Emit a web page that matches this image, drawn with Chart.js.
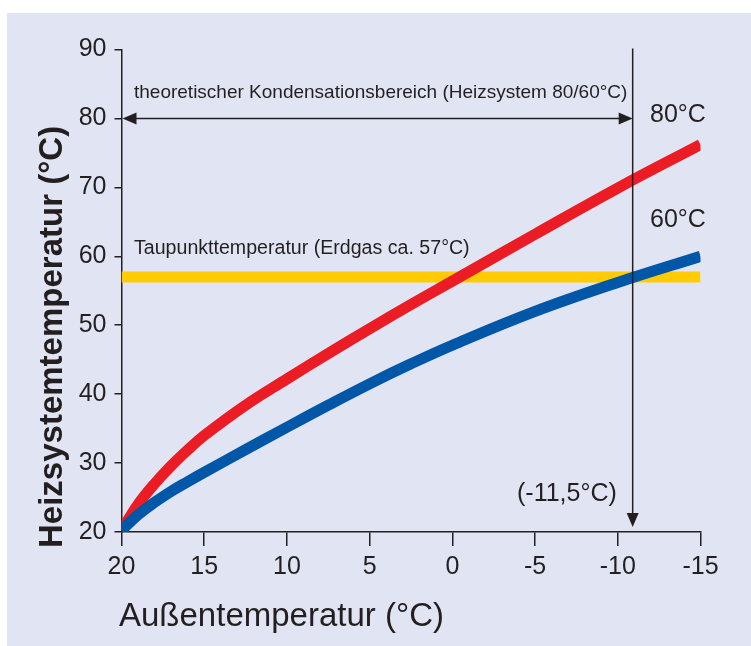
<!DOCTYPE html>
<html>
<head>
<meta charset="utf-8">
<script src="https://cdn.jsdelivr.net/npm/chart.js@4/dist/chart.umd.min.js"></script>
<style>
  html, body { margin: 0; padding: 0; background: #ffffff; }
  #wrap { position: relative; width: 751px; height: 646px; }
</style>
</head>
<body>
<div id="wrap"><canvas id="myChart"></canvas></div>
<script>
// Außentemperatur (°C) -> Heizsystemtemperatur (°C)
const outsideTemps = [20, 19, 18, 17, 16, 15, 12.5, 10, 7.5, 5, 2.5, 0, -5, -10, -15];
const system60 = [20.2, 22.5, 24.3, 25.9, 27.3, 28.65, 31.95, 35.2, 38.4, 41.5, 44.4, 47.1, 52.0, 56.2, 60.0];
const system80 = [20.2, 24.0, 27.0, 29.6, 31.9, 34.0, 38.4, 42.2, 45.9, 49.5, 53.0, 56.4, 63.2, 69.9, 76.2];
const dewPointRange = [20, -15];
const dewPointTemp = 57;
const condensationLimit = -10.9;   // where 60°C curve meets dew point
const condensationLevel = 80;

const ink = '#231f20';
const colors = { red: '#ec1c24', blue: '#0057a8', yellow: '#ffcb05', panel: '#e1e5f3' };

function toPoints(xs, ys) {
    return xs.map((x, i) => ({ x: x, y: ys[i] }));
}

function arrowHead(ctx, x, y, dir) {
    // dir: 'left', 'right', 'down'
    const len = 14, half = 6;
    ctx.beginPath();
    if (dir === 'left') { ctx.moveTo(x, y); ctx.lineTo(x + len, y - half); ctx.lineTo(x + len, y + half); }
    if (dir === 'right') { ctx.moveTo(x, y); ctx.lineTo(x - len, y - half); ctx.lineTo(x - len, y + half); }
    if (dir === 'down') { ctx.moveTo(x, y); ctx.lineTo(x - half, y - len); ctx.lineTo(x + half, y - len); }
    ctx.closePath();
    ctx.fill();
}

const panelBg = {
    id: 'panelBg',
    beforeDraw(chart) {
        const ctx = chart.ctx;
        ctx.save();
        ctx.fillStyle = colors.panel;
        ctx.fillRect(7, 13, chart.width - 7, chart.height - 13);
        ctx.restore();
    }
};

const annotations = {
    id: 'annotations',
    afterDatasetsDraw(chart) {
        const ctx = chart.ctx;
        const x = chart.scales.x, y = chart.scales.y;
        const xl = x.getPixelForValue(condensationLimit);
        const x0 = x.getPixelForValue(20);
        const yl = y.getPixelForValue(condensationLevel);
        ctx.save();
        ctx.strokeStyle = ink;
        ctx.fillStyle = ink;
        ctx.lineWidth = 1.5;

        // horizontal double arrow
        ctx.beginPath();
        ctx.moveTo(x0 + 4, yl);
        ctx.lineTo(xl - 4, yl);
        ctx.stroke();
        arrowHead(ctx, x0 + 1, yl, 'left');
        arrowHead(ctx, xl, yl, 'right');

        // vertical arrow down to the axis
        const yTop = y.getPixelForValue(90) - 1;
        const yTip = y.getPixelForValue(20) - 5;
        ctx.beginPath();
        ctx.moveTo(xl, yTop);
        ctx.lineTo(xl, yTip - 4);
        ctx.stroke();
        arrowHead(ctx, xl, yTip, 'down');

        // texts
        ctx.textBaseline = 'alphabetic';
        ctx.textAlign = 'left';
        ctx.font = '19px "Liberation Sans", Arial, sans-serif';
        ctx.fillText('theoretischer Kondensationsbereich (Heizsystem 80/60°C)', 134, 98);
        ctx.font = '19.6px "Liberation Sans", Arial, sans-serif';
        ctx.fillText('Taupunkttemperatur (Erdgas ca. 57°C)', 134, 254);

        ctx.font = '25px "Liberation Sans", Arial, sans-serif';
        ctx.fillText('80°C', 650, 122);
        ctx.fillText('60°C', 650, 227);
        ctx.fillText('(-11,5°C)', 517, 501);

        ctx.font = '33px "Liberation Sans", Arial, sans-serif';
        ctx.fillText('Außentemperatur (°C)', 119, 626);

        ctx.save();
        ctx.translate(62, 548);
        ctx.rotate(-Math.PI / 2);
        ctx.font = 'bold 33px "Liberation Sans", Arial, sans-serif';
        ctx.fillText('Heizsystemtemperatur (°C)', 0, 0);
        ctx.restore();

        ctx.restore();
    }
};

const tickFont = { family: '"Liberation Sans", Arial, sans-serif', size: 25 };

new Chart(document.getElementById('myChart').getContext('2d'), {
    type: 'line',
    data: {
        datasets: [
            {
                label: '60°C',
                data: toPoints(outsideTemps, system60),
                borderColor: colors.blue,
                borderWidth: 11,
                borderCapStyle: 'butt',
                pointRadius: 0,
                tension: 0.4,
                fill: false
            },
            {
                label: '80°C',
                data: toPoints(outsideTemps, system80),
                borderColor: colors.red,
                borderWidth: 11,
                borderCapStyle: 'butt',
                pointRadius: 0,
                tension: 0.4,
                fill: false
            },
            {
                label: 'Taupunkt',
                data: toPoints(dewPointRange, [dewPointTemp, dewPointTemp]),
                borderColor: colors.yellow,
                borderWidth: 11,
                borderCapStyle: 'butt',
                pointRadius: 0,
                fill: false
            }
        ]
    },
    options: {
        responsive: true,
        maintainAspectRatio: false,
        animation: false,
        layout: { padding: { left: 0, right: 50.5, top: 49.5, bottom: 0 } },
        plugins: { legend: { display: false }, tooltip: { enabled: false } },
        scales: {
            x: {
                type: 'linear',
                min: -15,
                max: 20,
                reverse: true,
                afterFit: s => { s.height = 114; },
                ticks: { stepSize: 5, color: ink, font: tickFont, padding: 6, maxRotation: 0 },
                grid: { drawOnChartArea: false, drawTicks: true, tickLength: 14, color: ink, lineWidth: 1.5 },
                border: { display: true, color: ink, width: 1.5 }
            },
            y: {
                min: 20,
                max: 90,
                afterFit: s => { s.width = 121.5; },
                ticks: { stepSize: 10, color: ink, font: tickFont, padding: 8 },
                grid: { drawOnChartArea: false, drawTicks: true, tickLength: 7, color: ink, lineWidth: 1.5 },
                border: { display: true, color: ink, width: 1.5 }
            }
        }
    },
    plugins: [panelBg, annotations]
});
</script>
</body>
</html>
